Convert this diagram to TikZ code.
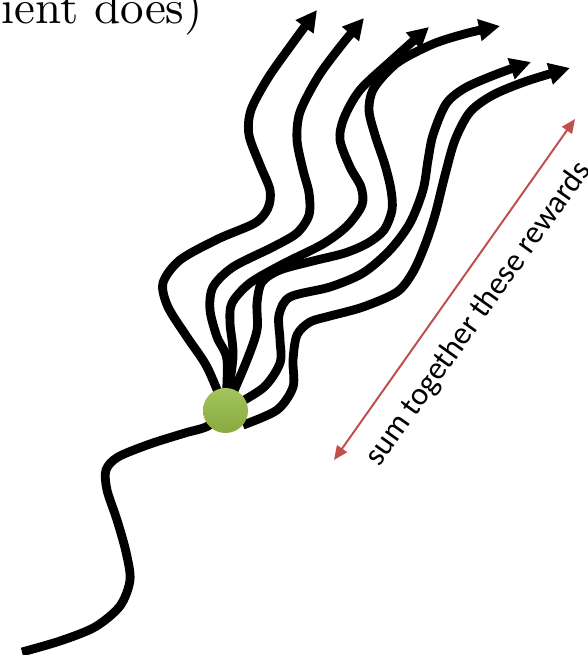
\documentclass[tikz,border=0pt]{standalone}
\usepackage{fontspec}
\newfontfamily\carlito{Carlito}
\newfontfamily\lmten{lmroman10-regular.otf}
\usetikzlibrary{arrows.meta}
\pgfdeclarelayer{bg}
\pgfsetlayers{bg,main}
\definecolor{rewardred}{RGB}{192,80,77}
\definecolor{dottop}{RGB}{164,196,94}
\definecolor{dotbot}{RGB}{136,170,62}
\tikzset{
  traj/.style={line width=8.8pt, line join=round, line cap=butt},
  trajarrow/.style={traj, -{Triangle[length=21pt,width=21pt]}},
  rewardarrow/.style={draw=rewardred, fill=rewardred, line width=2pt,
     {Triangle[length=14pt,width=12pt]}-{Triangle[length=14pt,width=12pt]}},
  statedot/.style={circle, minimum size=45pt, inner sep=0pt, draw=none,
     top color=dottop, bottom color=dotbot},
}
\begin{document}
\begin{tikzpicture}[x=1pt,y=-1pt]
\useasboundingbox (0,0) rectangle (588,655);

% title fragment
\node[anchor=base east, inner sep=0pt, font=\lmten\fontsize{47}{52}\selectfont] (ttl) at (203,24) {ient does)};

% state dot
\node[statedot] (dot) at (225.5,410.5) {};

% named ends
\coordinate (s0) at (22,652);
\coordinate (t1) at (317,10);
\coordinate (t2) at (364,18);
\coordinate (t3) at (429,27);
\coordinate (t4) at (500,26);
\coordinate (t5) at (531,62);
\coordinate (t6) at (570,68);

\begin{pgfonlayer}{bg}
% past trajectory
\draw[traj] plot[smooth] coordinates {(s0) (60,641) (95,627) (120,606) (130,580) (126,552) (117,520) (107,490) (106,470) (118,457) (150,444) (185,433) (208,426) (dot.center)};
% sampled futures
\draw[trajarrow] plot[smooth] coordinates {(dot.center) (207,367) (187,337) (168,307) (163,283) (180,260) (218,239) (255,223) (268,208) (270,190) (260,165) (249,135) (251,110) (268,78) (292,44) (t1)};
\draw[trajarrow] plot[smooth] coordinates {(dot.center) (227,360) (217,337) (210,310) (213,287) (233,267) (273,247) (297,233) (309,215) (309,193) (303,170) (297,140) (300,112) (318,77) (340,47) (t2)};
\draw[trajarrow] plot[smooth] coordinates {(dot.center) (233,357) (230,323) (232,303) (250,283) (283,264) (323,244) (347,226) (362,205) (361,187) (350,167) (340,140) (344,118) (360,90) (392,60) (t3)};
\draw[trajarrow] plot[smooth] coordinates {(dot.center) (247,360) (257,330) (257,303) (262,282) (280,270) (313,261) (345,253) (368,243) (384,230) (392,210) (391,190) (385,165) (375,135) (369,110) (374,88) (397,63) (433,44) (468,33) (t4)};
\draw[trajarrow] plot[smooth] coordinates {(dot.center) (263,388) (280,363) (280,340) (279,315) (290,297) (330,287) (363,273) (390,250) (410,223) (423,190) (428,160) (433,135) (446,104) (465,88) (497,74) (t5)};
\draw[trajarrow] plot[smooth] coordinates {(dot.-40) (277,410) (293,387) (293,360) (297,335) (310,322) (330,316) (363,307) (397,292) (413,272) (425,245) (435,215) (445,175) (455,140) (470,112) (493,95) (527,81) (t6)};
\end{pgfonlayer}

% reward span
\coordinate (ra) at (334,460);
\coordinate (rb) at (575,119);
\draw[rewardarrow] (ra) -- (rb);
\node[anchor=base west, rotate=54.5, inner sep=0pt, font=\carlito\fontsize{32}{38}\selectfont] (lbl) at (379,468) {sum together these rewards};
\end{tikzpicture}
\end{document}
